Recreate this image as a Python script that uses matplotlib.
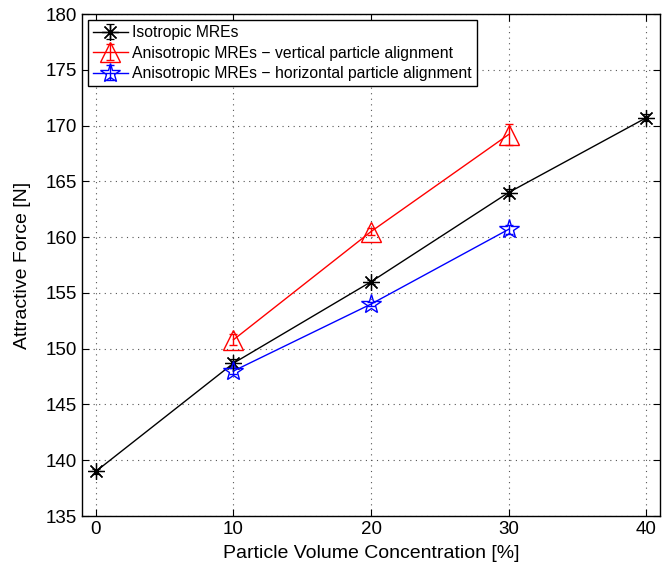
import matplotlib
matplotlib.use("Agg")
import matplotlib.pyplot as plt

plt.rcParams['font.family'] = ['Liberation Sans', 'DejaVu Sans']

x_iso = [0, 10, 20, 30, 40]
y_iso = [139.0, 148.7, 156.0, 164.0, 170.7]
e_iso = [0.2, 0.4, 0.2, 0.3, 0.3]

x_vert = [10, 20, 30]
y_vert = [150.8, 160.5, 169.2]
e_vert = [0.5, 0.3, 0.9]

x_hor = [10, 20, 30]
y_hor = [148.0, 154.0, 160.7]
e_hor = [0.3, 0.2, 0.4]

labels = ["Isotropic MREs",
          "Anisotropic MREs \u2212 vertical particle alignment",
          "Anisotropic MREs \u2212 horizontal particle alignment"]

fig = plt.figure(figsize=(6.62, 5.70), dpi=100)
ax = fig.add_axes([0.124, 0.0947, 0.873, 0.8807])

ax.errorbar(x_iso, y_iso, yerr=e_iso, color='black', lw=1.0, marker=(8, 2, 0),
            ms=12, mew=0.9, capsize=3, elinewidth=1.0, label=labels[0])
ax.errorbar(x_vert, y_vert, yerr=e_vert, color='red', lw=1.0, marker='^',
            ms=14, mfc='none', mew=1.0, capsize=3, elinewidth=1.0, label=labels[1])
ax.errorbar(x_hor, y_hor, yerr=e_hor, color='blue', lw=1.0, marker='*',
            ms=15, mfc='none', mew=1.0, capsize=3, elinewidth=1.0, label=labels[2])

ax.set_xlim(-1, 41)
ax.set_ylim(135, 180)
ax.set_xticks([0, 10, 20, 30, 40])
ax.set_yticks(range(135, 181, 5))
ax.tick_params(direction='in', top=True, right=True, labelsize=13.5, length=5, width=0.8)
ax.grid(True, linestyle=(0, (1, 4)), color='#555555', linewidth=0.8)
for s in ax.spines.values():
    s.set_linewidth(1.0)

ax.set_xlabel("Particle Volume Concentration [%]", fontsize=14, labelpad=5)
ax.set_ylabel("Attractive Force [N]", fontsize=14, labelpad=11)

leg = ax.legend(loc='upper left', fontsize=11.3, fancybox=False, framealpha=1,
                edgecolor='black', borderaxespad=0.4, handlelength=2.2,
                borderpad=0.3, labelspacing=0.35, handletextpad=0.3)
leg.get_frame().set_linewidth(1.0)

fig.savefig("out.png", dpi=100)
